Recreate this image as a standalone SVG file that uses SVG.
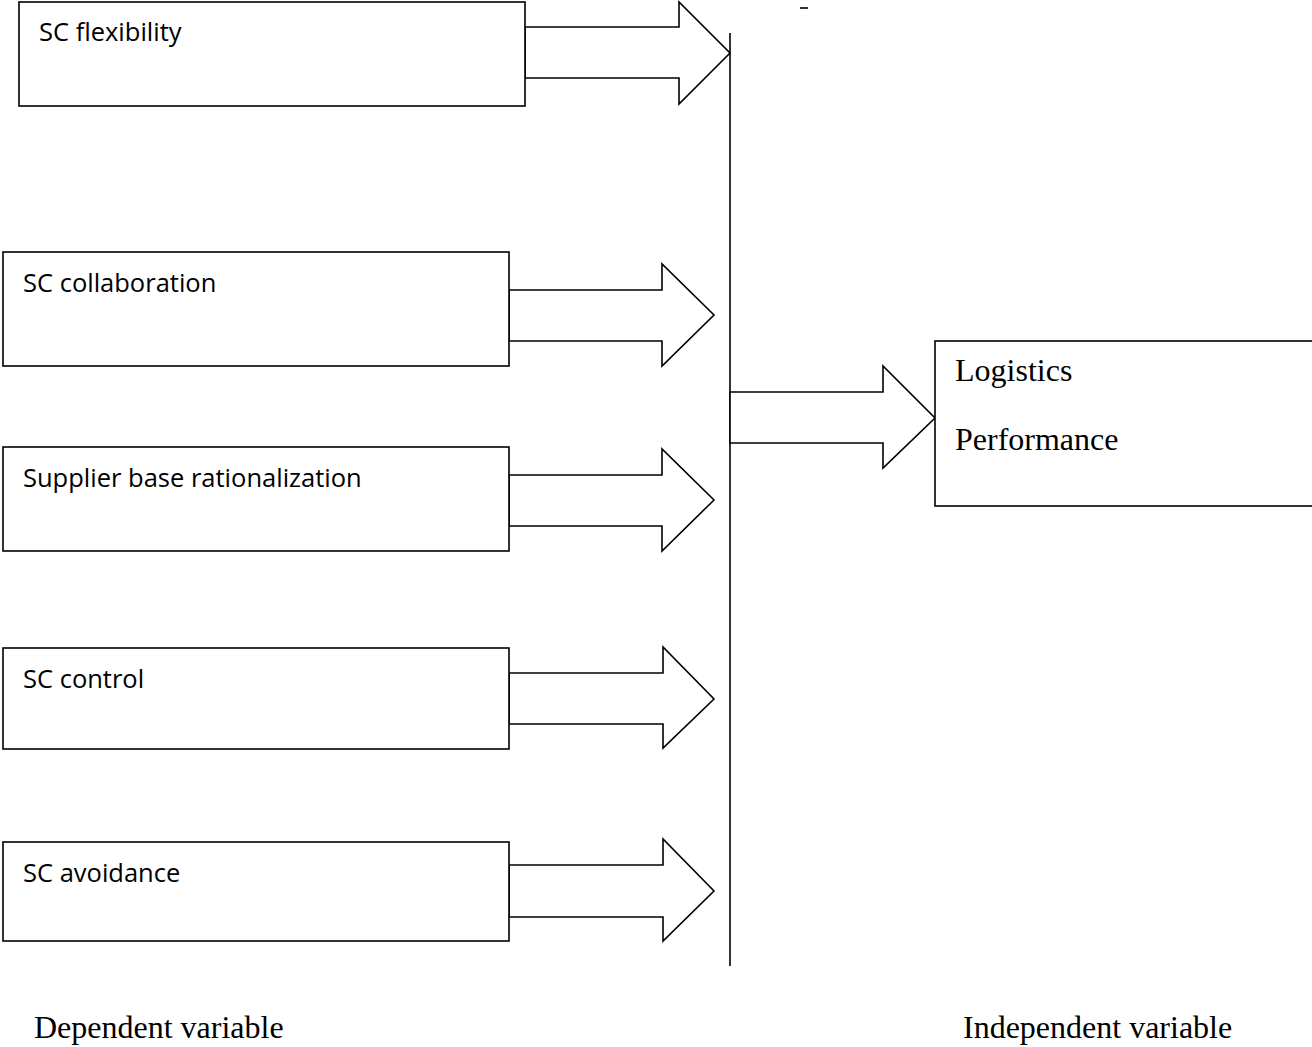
<svg xmlns="http://www.w3.org/2000/svg" width="1312" height="1047" viewBox="0 0 1312 1047">
<style>
.box{fill:#fff;stroke:#000;stroke-width:1.6}
.arr{fill:#fff;stroke:#000;stroke-width:1.6;stroke-linejoin:miter}
.ln{stroke:#000;stroke-width:1.6;fill:none}
.lbl{font-family:"Open Sans","Noto Sans",sans-serif;font-size:25.5px;fill:#000}
.tr{font-family:"Liberation Serif","Times New Roman",serif;font-size:32px;fill:#000}
</style>
<rect width="1312" height="1047" fill="#fff"/>
<g id="connectors">
<polygon class="arr" points="525,27 679,27 679,2 730,53 679,104 679,78 525,78"/>
<polygon class="arr" points="509,290 662,290 662,264 714,315 662,366 662,341 509,341"/>
<polygon class="arr" points="509,475 662,475 662,449 714,500 662,551 662,526 509,526"/>
<polygon class="arr" points="509,673 663,673 663,647 714,699 663,748 663,724 509,724"/>
<polygon class="arr" points="509,865 663,865 663,839 714,891 663,941 663,917 509,917"/>
<line class="ln" x1="730" y1="33" x2="730" y2="966"/>
<polygon class="arr" points="730,392 883,392 883,366 935,418 883,468 883,443 730,443"/>
<line class="ln" x1="800" y1="8" x2="808" y2="8"/>
</g>
<g id="n1"><rect class="box" x="19" y="2" width="506" height="104"/><text class="lbl" x="39" y="41">SC flexibility</text></g>
<g id="n2"><rect class="box" x="3" y="252" width="506" height="114"/><text class="lbl" x="23" y="292">SC collaboration</text></g>
<g id="n3"><rect class="box" x="3" y="447" width="506" height="104"/><text class="lbl" x="23" y="487">Supplier base rationalization</text></g>
<g id="n4"><rect class="box" x="3" y="648" width="506" height="101"/><text class="lbl" x="23" y="688">SC control</text></g>
<g id="n5"><rect class="box" x="3" y="842" width="506" height="99"/><text class="lbl" x="23" y="882">SC avoidance</text></g>
<g id="n6"><rect class="box" x="935" y="341" width="400" height="165"/><text class="tr" x="955" y="381">Logistics</text><text class="tr" x="955" y="450">Performance</text></g>
<text class="tr" x="34" y="1038">Dependent variable</text>
<text class="tr" x="963" y="1038">Independent variable</text>
</svg>
